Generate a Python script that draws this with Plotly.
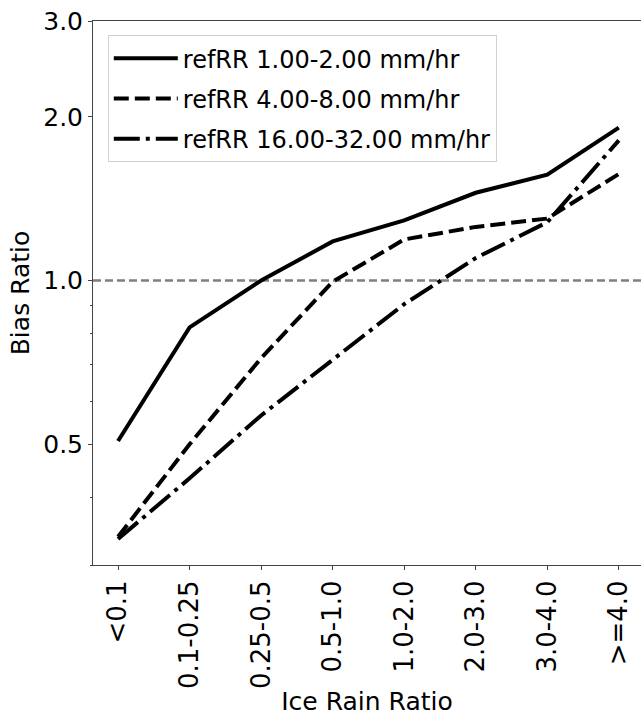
import plotly.graph_objects as go

# Ice/rain ratio bins on the x axis
categories = ["<0.1", "0.1-0.25", "0.25-0.5", "0.5-1.0", "1.0-2.0", "2.0-3.0", "3.0-4.0", ">=4.0"]

# Bias ratio per reference rain-rate class
bias_1_2 = [0.507, 0.82, 1.0, 1.18, 1.29, 1.45, 1.565, 1.91]
bias_4_8 = [0.338, 0.50, 0.72, 0.995, 1.19, 1.255, 1.30, 1.57]
bias_16_32 = [0.335, 0.433, 0.565, 0.715, 0.905, 1.10, 1.28, 1.81]

series_names = ["refRR 1.00-2.00 mm/hr", "refRR 4.00-8.00 mm/hr", "refRR 16.00-32.00 mm/hr"]

y_major = [0.5, 1.0, 2.0, 3.0]
y_major_text = ["0.5", "1.0", "2.0", "3.0"]
y_minor = [0.3, 0.4, 0.6, 0.7, 0.8, 0.9]

FONT = "DejaVu Sans"
x_idx = list(range(len(categories)))

fig = go.Figure()
dashes = ["solid", "15px,6px", "26px,6px,4px,6px"]
for i, (name, vals, dash) in enumerate(zip(series_names, [bias_1_2, bias_4_8, bias_16_32], dashes)):
    fig.add_trace(go.Scatter(
        x=x_idx, y=vals, mode="lines", name=name,
        legendgroup=f"g{i}",
        line=dict(color="black", width=4, dash=dash),
    ))

# reference line at a bias ratio of one
fig.add_hline(y=1.0, line=dict(color="#808080", width=2.5, dash="8px,4px"), layer="below")

fig.update_layout(
    width=641, height=716,
    margin=dict(l=93, r=0, t=21, b=151),
    plot_bgcolor="white", paper_bgcolor="white",
    font=dict(family=FONT, size=25, color="black"),
    showlegend=True,
    legend=dict(
        x=0.027, y=0.974, xanchor="left", yanchor="top",
        bgcolor="rgba(255,255,255,0.8)", bordercolor="#d0d0d0", borderwidth=1,
        font=dict(family=FONT, size=24, color="black"),
        tracegroupgap=6, itemwidth=64,
    ),
    xaxis=dict(
        range=[-0.35, 7.31], automargin=False,
        tickmode="array", tickvals=x_idx, ticktext=categories,
        tickfont=dict(family=FONT, size=26),
        tickangle=-90, ticks="outside", ticklen=4, tickcolor="#444",
        showline=True, linecolor="#444", linewidth=1, mirror=True,
        showgrid=False, zeroline=False,
        title=dict(text="Ice Rain Ratio", font=dict(family=FONT, size=25), standoff=13),
    ),
    yaxis=dict(
        type="log", range=[-0.5228787, 0.4771213], automargin=False,
        tickmode="array", tickvals=y_major, ticktext=y_major_text,
        tickfont=dict(family=FONT, size=25),
        ticks="outside", ticklen=4, tickcolor="#444",
        minor=dict(tickmode="array", tickvals=y_minor, ticks="outside", ticklen=2.5, tickcolor="#444"),
        showline=True, linecolor="#444", linewidth=1, mirror=False,
        showgrid=False, zeroline=False,
        title=dict(text="Bias Ratio", font=dict(family=FONT, size=25), standoff=6),
    ),
)

fig.write_html("out.html")
